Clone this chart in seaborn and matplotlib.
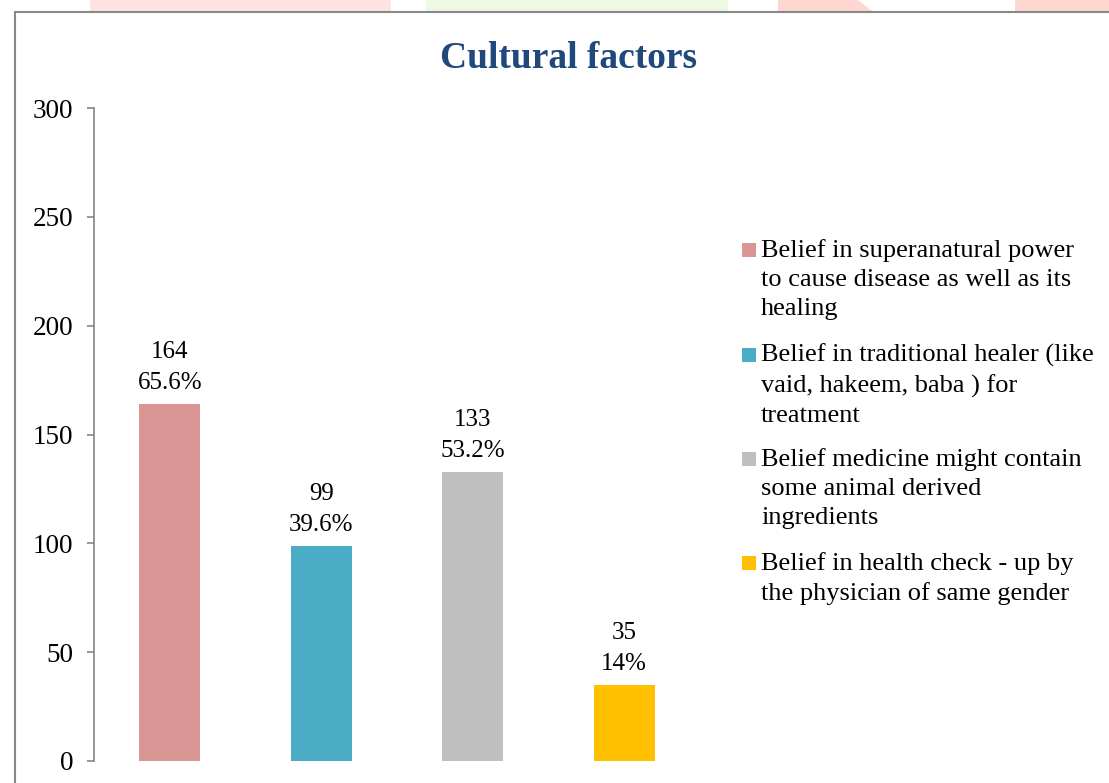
import matplotlib
matplotlib.use("Agg")
import matplotlib.pyplot as plt
from matplotlib.patches import Rectangle, Polygon
import seaborn as sns
import pandas as pd

sns.set_theme(style="white")
plt.rcParams['font.family'] = ['Liberation Serif', 'DejaVu Serif']

# data
categories = [
    "Belief in superanatural power\nto cause disease as well as its\nhealing",
    "Belief in traditional healer (like\nvaid, hakeem, baba ) for\ntreatment",
    "Belief medicine might contain\nsome animal derived\ningredients",
    "Belief in health check - up by\nthe physician of same gender",
]
counts = [164, 99, 133, 35]
percents = ["65.6%", "39.6%", "53.2%", "14%"]
colors = ["#d99694", "#4bacc6", "#bfbfbf", "#ffc000"]
yticks = [0, 50, 100, 150, 200, 250, 300]

df = pd.DataFrame({"factor": categories, "count": counts})

W, H = 1109, 783
fig = plt.figure(figsize=(W / 100, H / 100), dpi=100)
ax = fig.add_axes([94 / W, 1 - 761 / H, 606 / W, (761 - 108) / H])

sns.barplot(data=df, x="factor", y="count", hue="factor", order=categories,
            hue_order=categories, palette=colors, width=0.4, legend=False,
            saturation=1, linewidth=0, ax=ax)

ax.set_xlim(-0.5, 3.5)
ax.set_ylim(0, 300)
ax.set_yticks(yticks)
ax.set_xticks([])
ax.set_xlabel("")
ax.set_ylabel("")
for s in ["top", "right", "bottom"]:
    ax.spines[s].set_visible(False)
ax.spines["left"].set_color("#868686")
ax.spines["left"].set_linewidth(1.2)
ax.tick_params(axis="y", left=True, length=5, width=1.2, color="#868686",
               pad=10, labelsize=19.5, labelcolor="black")

# value labels
for i, (c, p) in enumerate(zip(counts, percents)):
    ax.annotate(f"{c}\n{p}", (i, c), xytext=(0, 7), textcoords="offset points",
                ha="center", va="bottom", fontsize=18, linespacing=1.52,
                color="black")

# manual legend, handle aligned with first line
leg_top = [239, 344, 448, 552]
for lab, col, yt in zip(categories, colors, leg_top):
    fig.patches.append(Rectangle((742 / W, 1 - (yt + 18) / H), 14 / W, 14 / H,
                                 transform=fig.transFigure, facecolor=col,
                                 edgecolor="none"))
    fig.text(761 / W, 1 - yt / H, lab, ha="left", va="top", fontsize=19,
             linespacing=1.4, color="black")

# title
fig.text(569 / W, 1 - 58 / H, "Cultural factors", ha="center", va="center",
         fontsize=27, fontweight="bold", color="#1f497d")

# page decoration: coloured stripes and chart frame
stripes = [(90, 391, "#fee3e1"), (426, 728, "#edf9e3"), (1015, 1109, "#fed8d0")]
for x0, x1, col in stripes:
    fig.patches.append(Rectangle((x0 / W, 1 - 11 / H), (x1 - x0) / W, 11 / H,
                                 transform=fig.transFigure, facecolor=col,
                                 edgecolor="none", zorder=0))
fig.patches.append(Polygon([(778 / W, 1), (858 / W, 1), (872 / W, 1 - 11 / H),
                            (778 / W, 1 - 11 / H)], closed=True,
                           transform=fig.transFigure, facecolor="#fed8d0",
                           edgecolor="none", zorder=0))
fig.patches.append(Rectangle((14.5 / W, -0.1), 1.2, 1.1 - 11.7 / H,
                             transform=fig.transFigure, facecolor="none",
                             edgecolor="#888888", linewidth=1.5, clip_on=False))

fig.savefig("out.png", dpi=100)
